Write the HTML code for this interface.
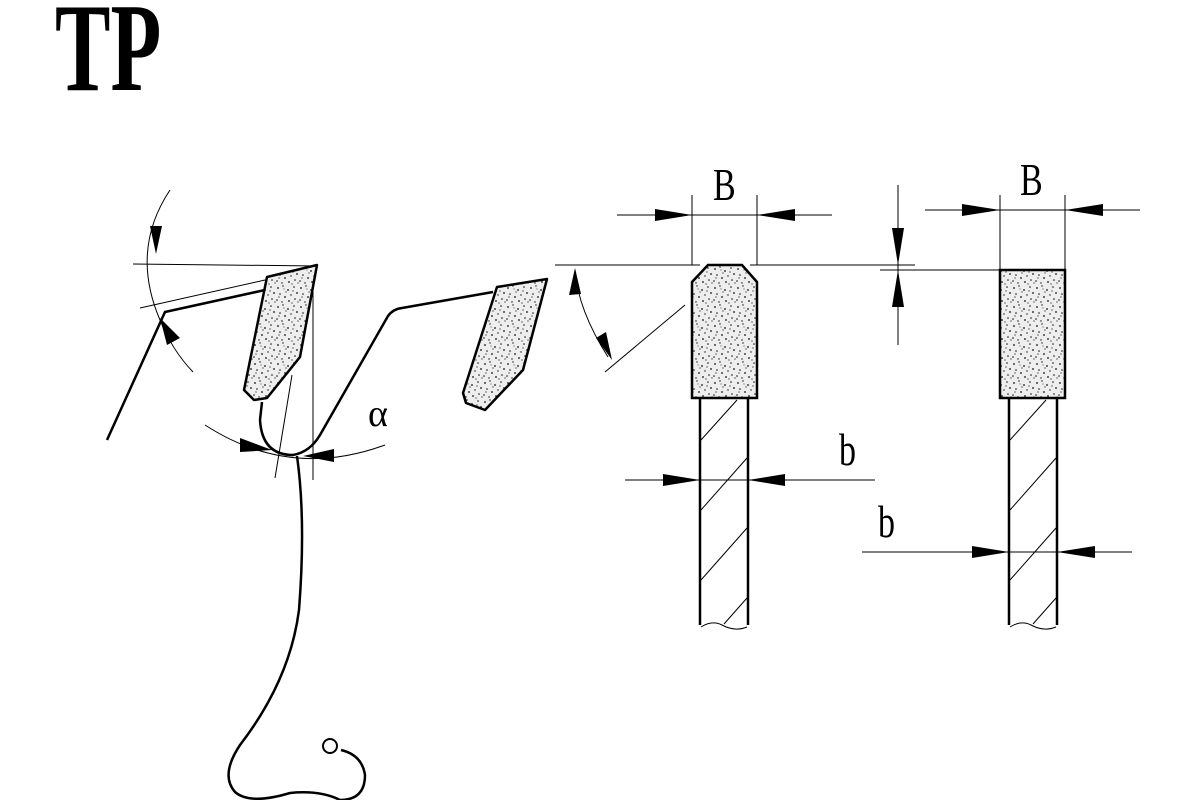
<!DOCTYPE html>
<html><head><meta charset="utf-8"><style>
html,body{margin:0;padding:0;background:#fff;}
svg{display:block}
</style></head><body>
<svg width="1200" height="800" viewBox="0 0 1200 800" xmlns="http://www.w3.org/2000/svg">
<defs>
<pattern id="st" width="23" height="19" patternUnits="userSpaceOnUse">
<rect width="23" height="19" fill="#eeeeee"/>
<g fill="#111">
<circle cx="2" cy="3" r="0.9"/><circle cx="7" cy="1" r="0.7"/><circle cx="12" cy="5" r="0.9"/><circle cx="18" cy="2" r="0.8"/>
<circle cx="4" cy="9" r="0.8"/><circle cx="9" cy="12" r="0.9"/><circle cx="15" cy="10" r="0.7"/><circle cx="21" cy="8" r="0.9"/>
<circle cx="1" cy="15" r="0.8"/><circle cx="6" cy="17" r="0.7"/><circle cx="13" cy="16" r="0.9"/><circle cx="19" cy="14" r="0.8"/>
<circle cx="10" cy="7" r="0.6"/><circle cx="16" cy="18" r="0.6"/><circle cx="22" cy="17" r="0.6"/><circle cx="3" cy="12" r="0.6"/>
<circle cx="17" cy="6" r="0.6"/><circle cx="8" cy="4" r="0.5"/>
</g>
</pattern>
</defs>

<text x="0" y="90" font-family="Liberation Serif, serif" font-weight="bold" font-size="126" transform="translate(55,0) scale(0.66,1)">TP</text>

<g fill="none" stroke="#000">
<line x1="133" y1="264" x2="318" y2="266" stroke-width="1"/>
<line x1="313" y1="266" x2="313" y2="480" stroke-width="1"/>
<line x1="140" y1="308" x2="265" y2="280" stroke-width="1"/>
<line x1="275" y1="478" x2="292" y2="375" stroke-width="1"/>
<path d="M170,190 Q130,250 160,320 Q172,350 193,372" stroke-width="1"/>
<path d="M205,425 Q290,480 385,445" stroke-width="1"/>
<path d="M107,440 L165,312 L265,290" stroke-width="2.5"/>
<path d="M262,402 L260,420 Q262,455 293,455 Q310,452 320,435 L388,316 Q393,309 402,308 L493,292" stroke-width="2.5"/>
<path d="M297,456 Q306,520 299,610 Q290,680 240,745 Q220,775 235,792 Q250,805 290,793 Q320,790 340,800 Q365,800 365,775 Q362,755 341,750" stroke-width="2.5"/>
<circle cx="330" cy="746" r="7" stroke-width="2"/>
</g>
<polygon points="267,277 317,265 300,357 267,398 254,400 244,390" fill="url(#st)" stroke="#000" stroke-width="2.5" stroke-linejoin="round"/>
<polygon points="497,287 547,279 523,370 485,410 466,403 463,393" fill="url(#st)" stroke="#000" stroke-width="2.5" stroke-linejoin="round"/>
<g fill="#000">
<polygon points="150,226 162,226 156,254"/>
<polygon points="160,318 167,345 180,338"/>
<polygon points="240,438 240,452 272,450"/>
<polygon points="334,449 334,462 303,456"/>
</g>
<text x="368" y="426" font-family="Liberation Serif, serif" font-size="38">α</text>

<g stroke="#000" fill="none" stroke-width="1">
<line x1="692" y1="195" x2="692" y2="265"/>
<line x1="757" y1="195" x2="757" y2="265"/>
<line x1="617" y1="215" x2="832" y2="215"/>
<line x1="555" y1="265" x2="700" y2="265"/>
<line x1="750" y1="265" x2="915" y2="265"/>
<line x1="605" y1="372" x2="685" y2="305"/>
<path d="M575,270 Q578,310 608,357"/>
<line x1="625" y1="480" x2="875" y2="480"/>
<line x1="898" y1="185" x2="898" y2="345"/>
<line x1="880" y1="270" x2="1000" y2="270"/>
<line x1="1000" y1="195" x2="1000" y2="270"/>
<line x1="1065" y1="195" x2="1065" y2="270"/>
<line x1="925" y1="210" x2="1140" y2="210"/>
<line x1="862" y1="552" x2="1132" y2="552"/>
<line x1="701" y1="440" x2="737" y2="400"/>
<line x1="701" y1="510" x2="747" y2="458"/>
<line x1="701" y1="580" x2="747" y2="528"/>
<line x1="724" y1="624" x2="747" y2="598"/>
<line x1="1010" y1="440" x2="1046" y2="400"/>
<line x1="1010" y1="510" x2="1056" y2="458"/>
<line x1="1010" y1="580" x2="1056" y2="528"/>
<line x1="1033" y1="624" x2="1056" y2="598"/>
</g>
<g stroke="#000" fill="none" stroke-width="2.5">
<path d="M700,398 L700,625 M748,398 L748,625"/>
<path d="M1009,398 L1009,625 M1057,398 L1057,625"/>
</g>
<path d="M701,627 Q712,620 722,625 Q735,632 747,627" stroke="#000" fill="none" stroke-width="1"/>
<path d="M1010,627 Q1021,620 1031,625 Q1044,632 1056,627" stroke="#000" fill="none" stroke-width="1"/>
<polygon points="708,265 742,265 757,282 757,398 692,398 692,282" fill="url(#st)" stroke="#000" stroke-width="2.5"/>
<rect x="1000" y="270" width="65" height="128" fill="url(#st)" stroke="#000" stroke-width="2.5"/>
<g fill="#000">
<polygon points="655,209 655,221 692,215"/>
<polygon points="795,209 795,221 757,215"/>
<polygon points="962,204 962,216 1000,210"/>
<polygon points="1103,204 1103,216 1065,210"/>
<polygon points="575,268 569,295 581,294"/>
<polygon points="612,360 596,338 606,332"/>
<polygon points="663,474 663,486 700,480"/>
<polygon points="785,474 785,486 748,480"/>
<polygon points="972,546 972,558 1009,552"/>
<polygon points="1095,546 1095,558 1057,552"/>
<polygon points="892,228 904,228 898,265"/>
<polygon points="892,307 904,307 898,270"/>
</g>
<g font-family="Liberation Serif, serif" font-size="40">
<text transform="translate(713,200) scale(0.85,1.15)">B</text>
<text transform="translate(1020,195) scale(0.85,1.15)">B</text>
<text transform="translate(839,465) scale(0.85,1.15)">b</text>
<text transform="translate(878,537) scale(0.85,1.15)">b</text>
</g>
</svg>
</body></html>
